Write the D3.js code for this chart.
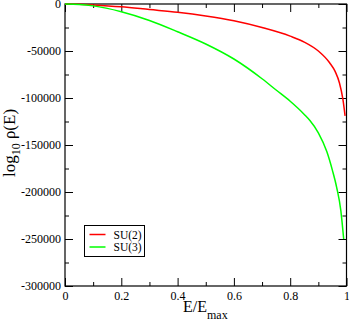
<!DOCTYPE html>
<html>
<head>
<meta charset="utf-8">
<script src="https://cdn.jsdelivr.net/npm/d3@7"></script>
<style>
  body { margin: 0; background: #fff; }
  svg text { font-family: "Liberation Serif", "Times New Roman", serif; }
</style>
</head>
<body>
<div id="chart"></div>
<script>
// data
var su2E   = [0, 0.05, 0.1, 0.2, 0.3, 0.4, 0.5, 0.6, 0.7, 0.8, 0.85, 0.9, 0.94, 0.96, 0.975, 0.987, 0.995];
var su2Val = [0, -250, -1000, -3000, -5900, -8800, -12700, -17800, -25000, -34200, -40500, -50000, -62500, -72000, -84000, -101000, -119000];

var su3E   = [0, 0.05, 0.1, 0.2, 0.3, 0.4, 0.5, 0.6, 0.7, 0.75, 0.8, 0.85, 0.87, 0.9, 0.93, 0.95, 0.965, 0.98, 0.99];
var su3Val = [0, -500, -2000, -8200, -17500, -29500, -42500, -58500, -79500, -91500, -103500, -117500, -124000, -137000, -157000, -177000, -195000, -220000, -250000];

var xTicks = [0, 0.2, 0.4, 0.6, 0.8, 1];
var xMinor = [0.1, 0.3, 0.5, 0.7, 0.9];
var yTicks = [0, -50000, -100000, -150000, -200000, -250000, -300000];
var yMinor = [-25000, -75000, -125000, -175000, -225000, -275000];

var seriesNames = ["SU(2)", "SU(3)"];
var seriesColors = ["#ff0000", "#00ff00"];

var svgWidth = 349, svgHeight = 321;
var plot = { left: 65, right: 346.5, top: 4, bottom: 286 };

var xScale = d3.scaleLinear().domain([0, 1]).range([plot.left, plot.right]);
var yScale = d3.scaleLinear().domain([-300000, 0]).range([plot.bottom, plot.top]);

var svg = d3.select('#chart').append('svg')
    .attr('width', svgWidth)
    .attr('height', svgHeight);

var fmt = d => String(d);

function addAxis(axis, transform, labels) {
    var g = svg.append('g')
        .attr('transform', transform)
        .call(axis)
        .attr('font-family', '"Liberation Serif", serif')
        .attr('font-size', 12);
    g.select('.domain').remove();
    g.selectAll('line').attr('stroke', '#000').attr('stroke-width', 1);
    g.selectAll('text').attr('fill', '#000');
    if (!labels) g.selectAll('text').remove();
    return g;
}

// bottom + top (ticks point inward)
addAxis(d3.axisBottom(xScale).tickValues(xTicks).tickSize(-8).tickPadding(5).tickFormat(fmt), `translate(0,${plot.bottom})`, true);
addAxis(d3.axisBottom(xScale).tickValues(xMinor).tickSize(-4), `translate(0,${plot.bottom})`, false);
addAxis(d3.axisTop(xScale).tickValues(xTicks).tickSize(-8), `translate(0,${plot.top})`, false);
addAxis(d3.axisTop(xScale).tickValues(xMinor).tickSize(-4), `translate(0,${plot.top})`, false);

// left + right
addAxis(d3.axisLeft(yScale).tickValues(yTicks).tickSize(-8).tickPadding(4).tickFormat(fmt), `translate(${plot.left},0)`, true);
addAxis(d3.axisLeft(yScale).tickValues(yMinor).tickSize(-4), `translate(${plot.left},0)`, false);
addAxis(d3.axisRight(yScale).tickValues(yTicks).tickSize(-8), `translate(${plot.right},0)`, false);
addAxis(d3.axisRight(yScale).tickValues(yMinor).tickSize(-4), `translate(${plot.right},0)`, false);

// frame
svg.append('rect')
    .attr('x', plot.left)
    .attr('y', plot.top)
    .attr('width', plot.right - plot.left)
    .attr('height', plot.bottom - plot.top)
    .attr('fill', 'none')
    .attr('stroke', '#000')
    .attr('stroke-width', 1.2);

var line = d3.line()
    .x(d => xScale(d[0]))
    .y(d => yScale(d[1]))
    .curve(d3.curveMonotoneX);

var series = [
    su2E.map((e, i) => [e, su2Val[i]]),
    su3E.map((e, i) => [e, su3Val[i]])
];

series.forEach((s, i) => {
    svg.append('path')
        .datum(s)
        .attr('d', line)
        .attr('fill', 'none')
        .attr('stroke', seriesColors[i])
        .attr('stroke-width', 1.5);
});

// axis titles
var xt = svg.append('text')
    .attr('x', 183)
    .attr('y', 312)
    .style('font-size', '16px');
xt.append('tspan').text('E/E');
xt.append('tspan').attr('dy', 7).style('font-size', '12px').text('max');

var yt = svg.append('text')
    .attr('transform', `translate(15,143) rotate(-90)`)
    .attr('text-anchor', 'middle')
    .style('font-size', '17px');
yt.append('tspan').text('log');
yt.append('tspan').attr('dy', 5).style('font-size', '12px').text('10');
yt.append('tspan').attr('dy', -5).text(' ρ(E)');

// legend
var legend = svg.append('g').attr('transform', 'translate(84.5,225.5)');
legend.append('rect')
    .attr('width', 60)
    .attr('height', 31)
    .attr('fill', '#fff')
    .attr('stroke', '#000')
    .attr('stroke-width', 1);
seriesNames.forEach((name, i) => {
    var yy = 9 + i * 12.5;
    legend.append('line')
        .attr('x1', 5).attr('x2', 21)
        .attr('y1', yy).attr('y2', yy)
        .attr('stroke', seriesColors[i])
        .attr('stroke-width', 1.5);
    legend.append('text')
        .attr('x', 29)
        .attr('y', yy + 4)
        .style('font-size', '11.5px')
        .text(name);
});
</script>
</body>
</html>
